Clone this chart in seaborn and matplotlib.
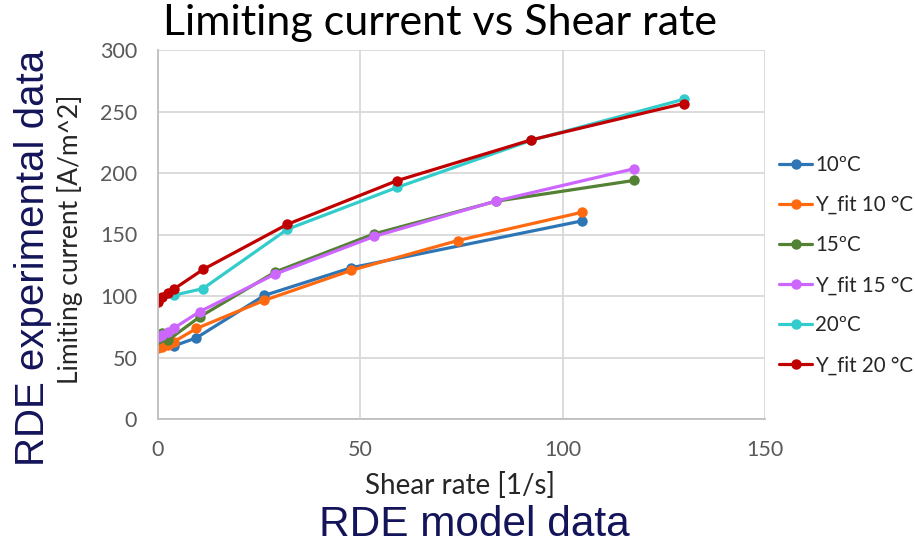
import matplotlib
matplotlib.use("Agg")
import matplotlib.pyplot as plt
import seaborn as sns
import pandas as pd

# ---- data ----
series_names = ["10ºC", "Y_fit 10 °C", "15ºC", "Y_fit 15 °C", "20ºC", "Y_fit 20 °C"]

x_10 = [0, 4, 9.5, 26.3, 47.8, 104.7]
y_10 = [63, 59.5, 66, 100.5, 123, 161]

x_fit10 = [0, 1, 2.4, 4, 9.5, 26.3, 47.8, 74.1, 104.7]
y_fit10 = [57.5, 58.8, 60.5, 63, 73.6, 96.5, 120.9, 145.1, 168]

x_15 = [0, 1, 2.5, 10.3, 29, 53.4, 83.5, 117.7]
y_15 = [65, 70, 64.2, 83, 119.6, 150.5, 177, 194]

x_fit15 = [0, 1, 2.4, 4, 10.3, 29, 53.4, 83.5, 117.7]
y_fit15 = [66.5, 68.5, 71, 74, 87.3, 117.9, 148.4, 177.2, 203.5]

x_20 = [0, 4, 11.1, 32, 59.1, 92.2, 130]
y_20 = [97, 100.7, 106, 154.3, 188.3, 226.5, 260]

x_fit20 = [0, 1.1, 2.4, 4, 11.2, 31.9, 59.1, 92.2, 129.9]
y_fit20 = [95.5, 99.3, 102.3, 105.8, 121.7, 158.2, 193.8, 226.9, 256.5]

colors = ["#2E75B6", "#FF6A10", "#548235", "#CC66FF", "#33CCCC", "#C00000"]

x_ticks = [0, 50, 100, 150]
y_ticks = [0, 50, 100, 150, 200, 250, 300]

xs = [x_10, x_fit10, x_15, x_fit15, x_20, x_fit20]
ys = [y_10, y_fit10, y_15, y_fit15, y_20, y_fit20]
rows = []
for name, xv, yv in zip(series_names, xs, ys):
    for a, b in zip(xv, yv):
        rows.append({"series": name, "shear": a, "current": b})
df = pd.DataFrame(rows)

sns.set_style("white")
plt.rcParams["font.family"] = ["Lato", "DejaVu Sans"]

fig = plt.figure(figsize=(9.15, 5.47), dpi=100)
ax = fig.add_axes([158/915, 1 - 419/547, (765-158)/915, (419-50)/547])

sns.lineplot(data=df, x="shear", y="current", hue="series", hue_order=series_names,
             palette=colors, marker="o", markersize=7.5, markeredgewidth=0,
             linewidth=2.3, sort=False, estimator=None, ax=ax)

ax.set_xlim(0, 150)
ax.set_ylim(0, 300)
ax.set_xticks(x_ticks)
ax.set_yticks(y_ticks)
ax.grid(True, color="#D9D9D9", linewidth=1.3)
ax.set_axisbelow(True)
for s in ["top", "right"]:
    ax.spines[s].set_visible(False)
for s in ["left", "bottom"]:
    ax.spines[s].set_color("#BFBFBF")
    ax.spines[s].set_linewidth(1.3)
ax.tick_params(axis="both", length=0, labelsize=15.5, labelcolor="#595959")
ax.tick_params(axis="y", pad=15)
ax.tick_params(axis="x", pad=15)
ax.set_xlabel("")
ax.set_ylabel("")

leg = ax.legend(loc="upper left", bbox_to_anchor=(1.0, 0.755), frameon=False,
                fontsize=14.8, labelspacing=0.98, handlelength=1.6, handletextpad=0.15,
                borderaxespad=0.3)
for t in leg.get_texts():
    t.set_color("#262626")

fig.text(0.481, 0.958, "Limiting current vs Shear rate", ha="center", va="center",
         fontsize=31, color="black")
fig.text(0.503, 0.113, "Shear rate [1/s]", ha="center", va="center",
         fontsize=20, color="#262626")
fig.text(0.0765, 0.563, "Limiting current [A/m^2]", ha="center", va="center",
         rotation=90, fontsize=19, color="#262626")
fig.text(0.518, 0.040, "RDE model data", ha="center", va="center",
         fontsize=30.5, color="#14145A", family="Liberation Sans")
fig.text(0.036, 0.528, "RDE experimental data", ha="center", va="center",
         rotation=90, fontsize=29, color="#14145A", family="Liberation Sans")

fig.savefig("out.png", dpi=100)
